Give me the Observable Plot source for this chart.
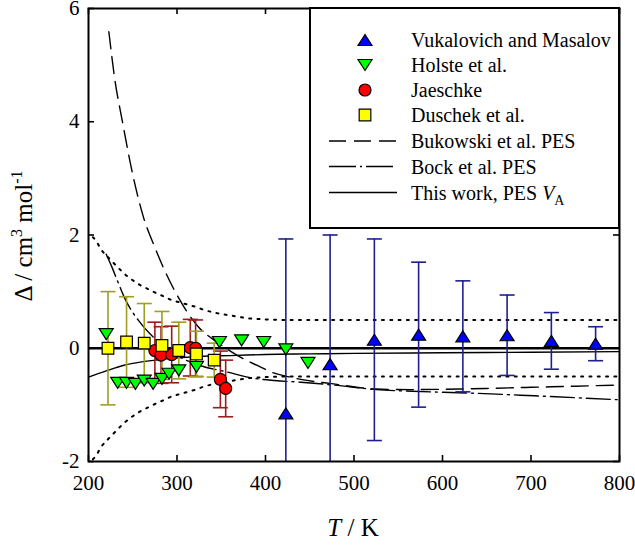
<!DOCTYPE html>
<html><head><meta charset="utf-8">
<script src="https://cdn.jsdelivr.net/npm/d3@7"></script>
<script src="https://cdn.jsdelivr.net/npm/@observablehq/plot@0.6"></script>
<style>
body{margin:0;background:#fff;font-family:'Liberation Serif','Times New Roman',Times,serif;}
#wrap{position:relative;width:635px;height:554px;font-family:'Liberation Serif','Times New Roman',Times,serif;color:#000;}
#wrap svg{display:block;}
#wrap svg text{font-family:'Liberation Serif','Times New Roman',Times,serif;}
.ylab{position:absolute;left:23px;top:236px;transform:translate(-50%,-50%) rotate(-90deg);font-size:25px;white-space:nowrap;line-height:1;}
.xlab{position:absolute;left:353px;top:527px;transform:translate(-50%,-50%);font-size:25px;white-space:nowrap;line-height:1;}
.sup{font-size:16px;position:relative;top:-10px;}
#legend{position:absolute;left:0;top:0;pointer-events:none;}
</style></head>
<body><div id="wrap"></div>
<script>
// ---- data ----
const xTicks = [200, 300, 400, 500, 600, 700, 800];
const yTicks = [-2, 0, 2, 4, 6];

const vukT = [423, 473, 523, 573, 623, 673, 723, 773];
const vukD = [-1.15, -0.28, 0.15, 0.24, 0.21, 0.23, 0.13, 0.08];
const vukE = [3.08, 2.28, 1.78, 1.28, 0.98, 0.71, 0.5, 0.3];

const holT = [220, 233, 243, 253, 263, 273, 283, 291, 302, 322, 348, 373, 398, 423, 448];
const holD = [0.25, -0.61, -0.61, -0.63, -0.57, -0.63, -0.54, -0.45, -0.39, -0.33, 0.11, 0.14, 0.11, -0.02, -0.26];

const jaeT = [275, 282, 294, 315, 321, 349, 355];
const jaeD = [-0.04, -0.12, -0.11, 0.01, 0.0, -0.55, -0.71];
const jaeE = [0.5, 0.5, 0.5, 0.5, 0.5, 0.5, 0.5];

const dusT = [222, 243, 263, 283, 302, 322, 342];
const dusD = [0.0, 0.11, 0.09, 0.05, -0.04, -0.1, -0.21];
const dusE = [1.0, 0.8, 0.7, 0.6, 0.5, 0.4, 0.3];

const bukT = [223, 230, 238, 249, 262, 275, 285, 300, 324, 345, 372, 390, 410, 425, 440, 477, 525, 565, 620, 650, 700, 750, 800];
const bukD = [5.59, 4.72, 4.03, 3.14, 2.32, 1.78, 1.41, 0.94, 0.38, 0.11, -0.16, -0.3, -0.44, -0.5, -0.55, -0.63, -0.72, -0.73, -0.72, -0.71, -0.69, -0.67, -0.65];

const bockT = [220, 226, 234, 241, 258, 275, 290, 305, 325, 357, 383, 410, 440, 477, 525, 566, 628, 704, 800];
const bockD = [1.66, 1.45, 1.14, 0.88, 0.46, 0.17, -0.03, -0.17, -0.3, -0.42, -0.52, -0.57, -0.6, -0.65, -0.73, -0.76, -0.79, -0.84, -0.91];

const thisT = [200, 220, 240, 260, 280, 300, 330, 360, 400, 450, 500, 600, 700, 800];
const thisD = [-0.51, -0.4, -0.3, -0.24, -0.2, -0.17, -0.14, -0.13, -0.11, -0.1, -0.09, -0.08, -0.07, -0.06];

const uncT  = [205, 208, 214, 225, 233, 241, 250, 259, 268, 277, 286, 294, 303, 312, 321, 330, 345, 364, 380, 400, 420, 800];
const uncUp = [1.96, 1.91, 1.75, 1.56, 1.43, 1.31, 1.2, 1.11, 1.04, 0.97, 0.91, 0.85, 0.81, 0.77, 0.73, 0.68, 0.62, 0.57, 0.53, 0.51, 0.5, 0.5];
const uncLo = [-1.96, -1.91, -1.75, -1.56, -1.43, -1.31, -1.2, -1.11, -1.04, -0.97, -0.91, -0.85, -0.81, -0.77, -0.73, -0.68, -0.62, -0.57, -0.53, -0.51, -0.5, -0.5];

const legendLabels = ["Vukalovich and Masalov", "Holste et al.", "Jaeschke", "Duschek et al.", "Bukowski et al. PES", "Bock et al. PES", "This work, PES "];

// ---- build tables ----
const pts = (T, D, E) => T.map((t, i) => ({T: t, D: D[i], E: E ? E[i] : 0}));
const vuk = pts(vukT, vukD, vukE);
const hol = pts(holT, holD);
const jae = pts(jaeT, jaeD, jaeE);
const dus = pts(dusT, dusD, dusE);
const buk = pts(bukT, bukD);
const bock = pts(bockT, bockD);
const thisw = pts(thisT, thisD);
const up = pts(uncT, uncUp);
const lo = pts(uncT, uncLo);

// ---- symbols ----
const rad = (s) => Math.sqrt(s / Math.PI);
const triUp = {draw(c, s) { const r = rad(s), w = r * 1.4, h = r * 1.1; c.moveTo(0, -h); c.lineTo(w, h); c.lineTo(-w, h); c.closePath(); }};
const triDown = {draw(c, s) { const r = rad(s), w = r * 1.4, h = r * 1.1; c.moveTo(0, h); c.lineTo(w, -h); c.lineTo(-w, -h); c.closePath(); }};
const square = {draw(c, s) { const r = rad(s) * 0.97; c.moveTo(-r, -r); c.lineTo(r, -r); c.lineTo(r, r); c.lineTo(-r, r); c.closePath(); }};
const cap = {draw(c, s) { const r = rad(s); c.moveTo(-r, 0); c.lineTo(r, 0); }};

const W = 635, H = 554, mL = 88, mR = 16, mT = 8, mB = 93;
const innerH = H - mT - mB, innerW = W - mL - mR, tk = 6;
const serif = "'Liberation Serif', 'Times New Roman', Times, serif";

const cVuk = "#1f1f8f", cJae = "#9c1c1c", cDus = "#9e9e22";

function errorBars(data, color) {
  return [
    Plot.ruleX(data, {x: "T", y1: d => d.D - d.E, y2: d => d.D + d.E, stroke: color, strokeWidth: 1.6, clip: true}),
    Plot.dot(data, {x: "T", y: d => d.D + d.E, symbol: cap, r: 7.5, stroke: color, fill: "none", strokeWidth: 1.6, clip: true}),
    Plot.dot(data, {x: "T", y: d => d.D - d.E, symbol: cap, r: 7.5, stroke: color, fill: "none", strokeWidth: 1.6, clip: true})
  ];
}

const chart = Plot.plot({
  width: W, height: H, marginLeft: mL, marginRight: mR, marginTop: mT, marginBottom: mB,
  style: {fontFamily: serif, fontSize: "21px", background: "white", color: "black", overflow: "visible"},
  x: {domain: [200, 800]},
  y: {domain: [-2, 6]},
  marks: [
    Plot.axisX(xTicks, {tickSize: 0, tickPadding: 14, fontSize: 21, fontFamily: serif, label: null, tickFormat: d => String(d)}),
    Plot.axisY(yTicks, {tickSize: 0, tickPadding: 9, fontSize: 21, fontFamily: serif, label: null, tickFormat: d => String(d)}),
    Plot.tickX(xTicks, {x: d => d, insetTop: innerH - tk, strokeWidth: 1.6}),
    Plot.tickX(xTicks, {x: d => d, insetBottom: innerH - tk, strokeWidth: 1.6}),
    Plot.tickY(yTicks, {y: d => d, insetRight: innerW - tk, strokeWidth: 1.6}),
    Plot.tickY(yTicks, {y: d => d, insetLeft: innerW - tk, strokeWidth: 1.6}),
    Plot.line(up, {x: "T", y: "D", stroke: "black", strokeWidth: 2, strokeDasharray: "2,6.3", curve: "monotone-x", clip: true}),
    Plot.line(lo, {x: "T", y: "D", stroke: "black", strokeWidth: 2, strokeDasharray: "2,6.3", curve: "monotone-x", clip: true}),
    Plot.line(buk, {x: "T", y: "D", stroke: "black", strokeWidth: 1.4, strokeDasharray: "17,8", curve: "monotone-x", clip: true}),
    Plot.line(bock, {x: "T", y: "D", stroke: "black", strokeWidth: 1.4, strokeDasharray: "24,5,2,5", curve: "monotone-x", clip: true}),
    Plot.line(thisw, {x: "T", y: "D", stroke: "black", strokeWidth: 1.4, curve: "monotone-x", clip: true}),
    Plot.ruleY([0], {stroke: "black", strokeWidth: 2.6}),
    ...errorBars(vuk, cVuk),
    ...errorBars(jae, cJae),
    ...errorBars(dus, cDus),
    Plot.dot(vuk, {x: "T", y: "D", symbol: triUp, r: 5, fill: "#0000ff", stroke: "black", strokeWidth: 1.2}),
    Plot.dot(hol, {x: "T", y: "D", symbol: triDown, r: 5, fill: "#00ff00", stroke: "black", strokeWidth: 1.2}),
    Plot.dot(jae, {x: "T", y: "D", r: 6, fill: "#ff0000", stroke: "black", strokeWidth: 1.2}),
    Plot.dot(dus, {x: "T", y: "D", symbol: square, r: 6, fill: "#ffff00", stroke: "black", strokeWidth: 1.2}),
    Plot.frame({stroke: "black", strokeWidth: 2})
  ]
});

const wrap = document.getElementById("wrap");
wrap.appendChild(chart);

// axis titles
const yl = document.createElement("div");
yl.className = "ylab";
yl.innerHTML = "&Delta; / cm<span class='sup'>3</span> mol<span class='sup'>-1</span>";
wrap.appendChild(yl);
const xl = document.createElement("div");
xl.className = "xlab";
xl.innerHTML = "<i>T</i> / K";
wrap.appendChild(xl);

// legend overlay
const lg = d3.create("svg").attr("id", "legend").attr("width", W).attr("height", H)
  .style("font-family", serif).style("font-size", "20px");
lg.append("rect").attr("x", 310).attr("y", 8).attr("width", 309).attr("height", 220)
  .attr("fill", "white").attr("stroke", "black").attr("stroke-width", 2);
const rowY = [40, 65, 90, 115, 141, 166.5, 192.5];
const sx = 365;
const symPath = (sym, r) => { const p = d3.path(); sym.draw(p, r * r * Math.PI); return p.toString(); };
lg.append("path").attr("transform", `translate(${sx},${rowY[0]})`).attr("d", symPath(triUp, 5)).attr("fill", "#0000ff").attr("stroke", "black").attr("stroke-width", 1.2);
lg.append("path").attr("transform", `translate(${sx},${rowY[1]})`).attr("d", symPath(triDown, 5)).attr("fill", "#00ff00").attr("stroke", "black").attr("stroke-width", 1.2);
lg.append("circle").attr("cx", sx).attr("cy", rowY[2]).attr("r", 6).attr("fill", "#ff0000").attr("stroke", "black").attr("stroke-width", 1.2);
lg.append("path").attr("transform", `translate(${sx},${rowY[3]})`).attr("d", symPath(square, 6)).attr("fill", "#ffff00").attr("stroke", "black").attr("stroke-width", 1.2);
const dashes = ["17,8", "27,4,2,4", null];
for (let k = 0; k < 3; k++) {
  const l = lg.append("line").attr("x1", 329).attr("x2", 397).attr("y1", rowY[4 + k]).attr("y2", rowY[4 + k])
    .attr("stroke", "black").attr("stroke-width", 1.4);
  if (dashes[k]) l.attr("stroke-dasharray", dashes[k]);
}
legendLabels.forEach((t, i) => {
  const tx = lg.append("text").attr("x", 411).attr("y", rowY[i]).attr("dy", "0.35em").text(t);
  if (i === 6) {
    tx.append("tspan").attr("font-style", "italic").text("V");
    tx.append("tspan").attr("font-size", "14px").attr("dy", "5").text("A");
  }
});
wrap.appendChild(lg.node());
</script></body></html>
